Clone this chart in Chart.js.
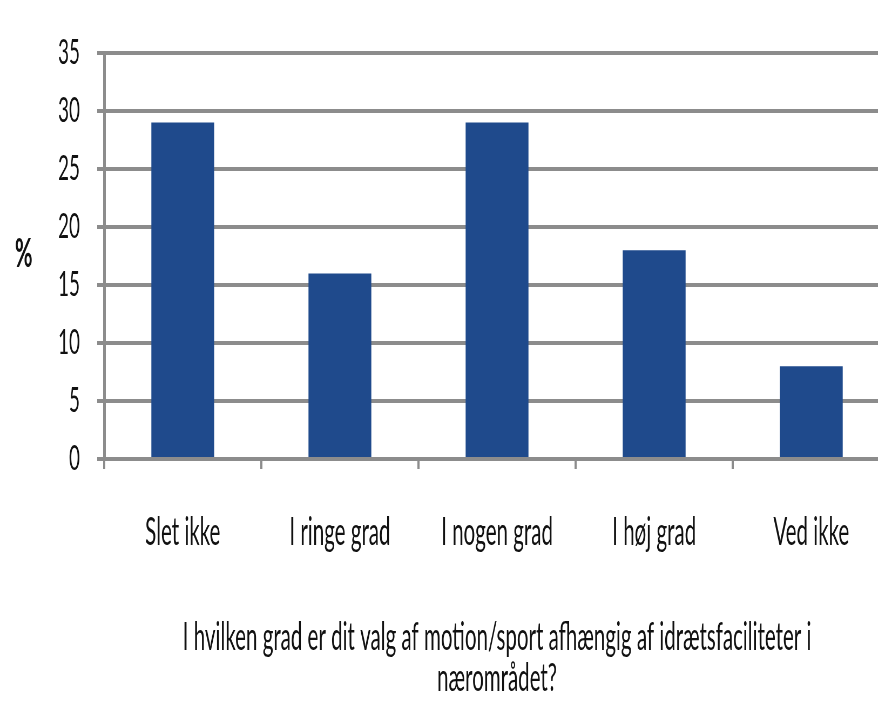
<!DOCTYPE html>
<html lang="da">
<head>
    <meta charset="UTF-8">
    <title>Idrætsfaciliteter</title>
    <script src="https://cdn.jsdelivr.net/npm/chart.js"></script>
    <style>
        html, body { margin: 0; padding: 0; overflow: hidden; background: #fff; }
        canvas { display: block; }
    </style>
</head>
<body>
    <!-- drawn wide and shown narrow: the original picture is squeezed sideways -->
    <canvas id="gradChart" width="1652" height="712" style="width: 892px; height: 712px;"></canvas>

    <script>
        // data
        const categories = ["Slet ikke", "I ringe grad", "I nogen grad", "I høj grad", "Ved ikke"];
        const percents = [29, 16, 29, 18, 8];
        const yTicks = [0, 5, 10, 15, 20, 25, 30, 35];
        const xTitle = ["I hvilken grad er dit valg af motion/sport afhængig af idrætsfaciliteter i", "nærområdet?"];
        const yLabel = "%";

        const font = "Lato, 'Open Sans', sans-serif";
        const grey = "#8c8c8c";

        // "%" stands upright left of the tick labels
        const percentLabel = {
            id: "percentLabel",
            afterDraw(chart) {
                const ctx = chart.ctx;
                const a = chart.chartArea;
                ctx.save();
                ctx.font = "bold 40px " + font;
                ctx.fillStyle = "#111";
                ctx.textAlign = "center";
                ctx.textBaseline = "middle";
                ctx.fillText(yLabel, 44, (a.top + a.bottom) / 2 - 2);
                ctx.restore();
            }
        };

        new Chart(document.getElementById("gradChart"), {
            type: "bar",
            data: {
                labels: categories,
                datasets: [{
                    data: percents,
                    backgroundColor: "#1f4a8c",
                    categoryPercentage: 1,
                    barPercentage: 0.4
                }]
            },
            options: {
                responsive: false,
                animation: false,
                layout: { padding: { left: 0, top: 31, right: 4, bottom: 0 } },
                plugins: { legend: { display: false }, tooltip: { enabled: false } },
                scales: {
                    x: {
                        afterFit(scale) { scale.height = 253; },
                        grid: { drawOnChartArea: false, color: grey, lineWidth: 4, tickLength: 10 },
                        border: { display: false },
                        ticks: { color: "#111", font: { family: font, size: 38 }, padding: 41, maxRotation: 0 },
                        title: {
                            display: true,
                            text: xTitle,
                            color: "#111",
                            font: { family: font, size: 38, lineHeight: 1.1 },
                            padding: { top: 0, bottom: 12 }
                        }
                    },
                    y: {
                        min: 0,
                        max: 35,
                        afterBuildTicks(scale) { scale.ticks = yTicks.map(v => ({ value: v })); },
                        afterFit(scale) { scale.width = 193; },
                        grid: { color: grey, lineWidth: 4, tickLength: 13 },
                        border: { color: grey, width: 5 },
                        ticks: { color: "#111", font: { family: font, size: 35 }, padding: 32 }
                    }
                }
            },
            plugins: [percentLabel]
        });
    </script>
</body>
</html>
